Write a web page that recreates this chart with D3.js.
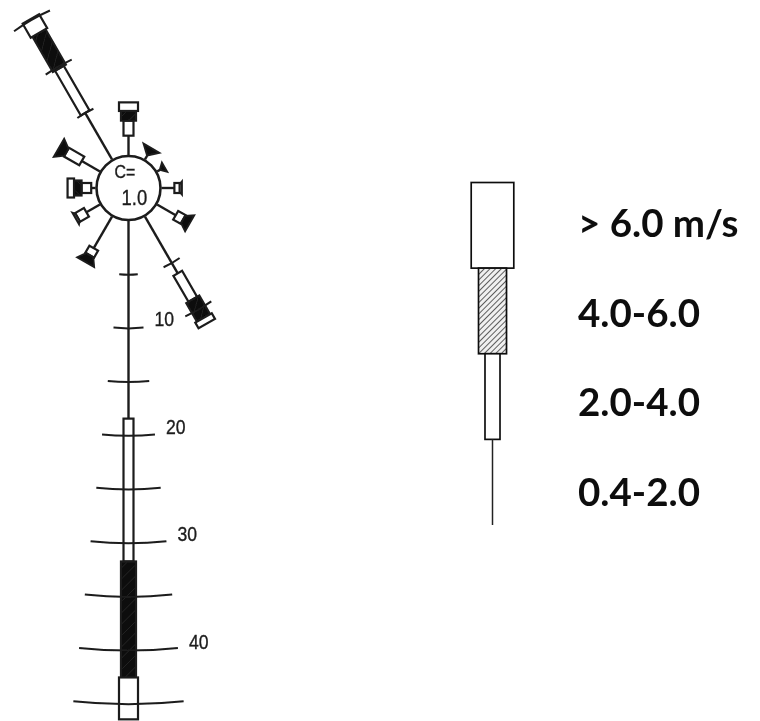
<!DOCTYPE html>
<html>
<head>
<meta charset="utf-8">
<style>
  body { margin: 0; background: #fff; }
  svg { display: block; }
</style>
<script src="https://cdn.jsdelivr.net/npm/d3@7"></script>
</head>
<body>
<svg id="rose" width="760" height="721"></svg>
<script>
// current rose: cumulative frequency (%) at the end of each speed class
var directions = [0, 30, 60, 90, 120, 150, 180, 210, 240, 270, 300, 330];
var thinEnd    = [1.8, 0.5, 0.4, 1.2, 2.0, 6.1, 18.4, 3.4, 1.45, 0.4, 1.95, 5.0];
var narrowEnd  = [3.2, 0.5, 0.4, 1.7, 2.8, 8.9, 31.7, 4.15, 2.4, 1.3, 3.6, 9.8];
var hatchEnd   = [4.1, 1.2, 0.8, 1.9, 3.5, 10.9, 42.5, 4.9, 2.6, 2.0, 4.4, 13.6];
var wideEnd    = [4.9, 1.2, 0.8, 1.9, 3.5, 11.5, 46.4, 4.9, 2.6, 2.6, 4.4, 15.1];

var ringValues = [5, 10, 15, 20, 25, 30, 35, 40, 45];
var ringLabels = [10, 20, 30, 40];
var legendClasses = ['> 6.0 m/s', '4.0-6.0', '2.0-4.0', '0.4-2.0'];

var cx = 128.5, cy = 188, circleR = 32;
var ink = '#1c1c1c';
var narrowHalf = 5, hatchHalf = 7.5, wideHalf = 9.5, ringSpan = 0.107;

var svg = d3.select('#rose');
var r = d3.scaleLinear().domain([0, 50]).range([circleR + 1, circleR + 538]);

var defs = svg.append('defs');
defs.append('filter').attr('id', 'soft')
    .append('feGaussianBlur').attr('stdDeviation', 0.5);

// dark hatch for the rose, light one for the legend
function addHatch(id, size, bg, stroke, width) {
    var p = defs.append('pattern').attr('id', id)
        .attr('patternUnits', 'userSpaceOnUse')
        .attr('width', size).attr('height', size)
        .attr('patternTransform', 'rotate(45)');
    p.append('rect').attr('width', size).attr('height', size).attr('fill', bg);
    p.append('line').attr('x1', 0).attr('y1', 0).attr('x2', 0).attr('y2', size)
        .attr('stroke', stroke).attr('stroke-width', width);
}
addHatch('hatchDark', 8, '#080808', '#333', 1.2);
addHatch('hatchLegend', 4, '#f0f0f0', '#444', 1.7);

function box(g, y0, y1, half, fill) {
    g.append('rect')
        .attr('x', -half).attr('width', half * 2)
        .attr('y', -y1).attr('height', y1 - y0)
        .attr('fill', fill).attr('stroke', ink).attr('stroke-width', 2.2);
}

// CAD style lettering: regular sans squeezed sideways
function cadText(parent, x, y, size, str) {
    return parent.append('text')
        .attr('transform', 'translate(' + x + ',' + y + ') scale(0.84,1)')
        .attr('font-family', '"Liberation Sans"')
        .attr('font-size', size).attr('fill', ink)
        .attr('stroke', ink).attr('stroke-width', 0.35)
        .text(str);
}

var chart = svg.append('g').attr('filter', 'url(#soft)');
var center = chart.append('g').attr('transform', 'translate(' + cx + ',' + cy + ')');

var arc = d3.arc();

directions.forEach(function (dir, i) {
    var g = center.append('g').attr('transform', 'rotate(' + dir + ')');
    var hasNarrow = narrowEnd[i] > thinEnd[i];
    var hasWide = wideEnd[i] > hatchEnd[i];

    g.append('line')
        .attr('y1', -r(0)).attr('y2', -r(thinEnd[i]))
        .attr('stroke', ink).attr('stroke-width', 2.4);

    if (hasNarrow) box(g, r(thinEnd[i]), r(narrowEnd[i]), narrowHalf, '#fff');

    if (hasWide) {
        box(g, r(narrowEnd[i]), r(hatchEnd[i]), hatchHalf, 'url(#hatchDark)');
        box(g, r(hatchEnd[i]), r(wideEnd[i]), wideHalf, '#fff');
    } else {
        // short class with nothing past it: flares out into a cap
        var len = r(hatchEnd[i]) - r(narrowEnd[i]);
        var outer = Math.max(hasNarrow ? 6.5 : 0, 1.2 * len);
        var inner = hasNarrow ? 4 : 1;
        g.append('path')
            .attr('d', d3.line()([
                [-inner, -r(narrowEnd[i])], [inner, -r(narrowEnd[i])],
                [outer, -r(hatchEnd[i])], [-outer, -r(hatchEnd[i])]
            ]) + 'Z')
            .attr('fill', hasNarrow && len < 3 ? '#fff' : '#080808')
            .attr('stroke', ink).attr('stroke-width', 2);
    }

    ringValues.filter(function (v) { return v <= wideEnd[i]; }).forEach(function (v) {
        g.append('path')
            .attr('d', arc({
                innerRadius: r(v), outerRadius: r(v),
                startAngle: -ringSpan, endAngle: ringSpan
            }))
            .attr('fill', 'none').attr('stroke', ink).attr('stroke-width', 2);
    });
});

center.append('circle').attr('r', circleR)
    .attr('fill', '#fff').attr('stroke', ink).attr('stroke-width', 2.6);

cadText(center, -14, -10, 19, 'C=');
cadText(center, -7, 17, 22, '1.0');

ringLabels.forEach(function (d) {
    cadText(center, r(d) * Math.sin(ringSpan) + 11, r(d) - 2, 21, d);
});

// legend
var legend = svg.append('g').attr('filter', 'url(#soft)');
var legendX = 492.5;
var legendY = d3.scaleBand().domain(legendClasses).range([182.5, 525]);
var legendText = d3.scalePoint().domain(legendClasses).range([237, 506]);
var legendHalf = [21.3, 14, 7.5, 0];
var legendFill = ['#fff', 'url(#hatchLegend)', '#fff', 'none'];

legendClasses.forEach(function (c, i) {
    if (legendHalf[i] > 0) {
        legend.append('rect')
            .attr('x', legendX - legendHalf[i]).attr('width', legendHalf[i] * 2)
            .attr('y', legendY(c)).attr('height', legendY.bandwidth())
            .attr('fill', legendFill[i]).attr('stroke', '#111').attr('stroke-width', 1.7);
    } else {
        legend.append('line')
            .attr('x1', legendX).attr('x2', legendX)
            .attr('y1', legendY(c)).attr('y2', legendY(c) + legendY.bandwidth())
            .attr('stroke', '#222').attr('stroke-width', 1.5);
    }
    legend.append('text')
        .attr('x', 578).attr('y', legendText(c))
        .attr('font-family', 'Lato').attr('font-weight', 700)
        .attr('font-size', 38.5).attr('fill', '#111')
        .text(c);
});
</script>
</body>
</html>
